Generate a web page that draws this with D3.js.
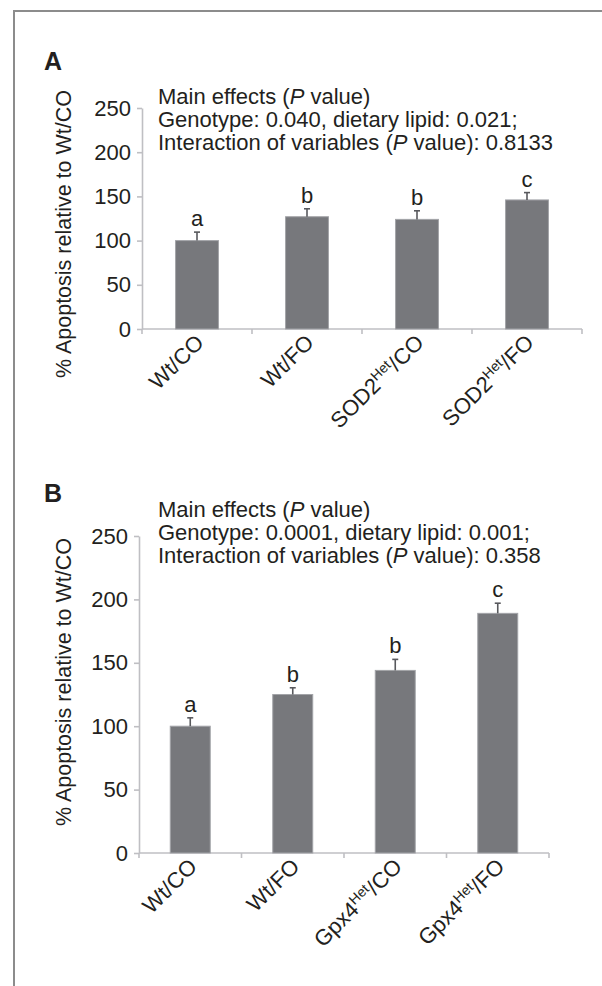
<!DOCTYPE html>
<html>
<head>
<meta charset="utf-8">
<script src="https://cdn.jsdelivr.net/npm/d3@7"></script>
<style>
  body { margin: 0; background: #fff; }
  svg { display: block; font-family: "Liberation Sans", Arial, Helvetica, sans-serif; }
</style>
</head>
<body>
<div id="chart"></div>
<script>
// data
const labelsA = ["Wt/CO", "Wt/FO", "SOD2{Het}/CO", "SOD2{Het}/FO"];
const valuesA = [100, 127, 124, 146];
const errorsA = [9.6, 9, 9.7, 8.3];
const lettersA = ["a", "b", "b", "c"];
const notesA = ["Genotype: 0.040, dietary lipid: 0.021;", "Interaction of variables ({P} value): 0.8133"];

const labelsB = ["Wt/CO", "Wt/FO", "Gpx4{Het}/CO", "Gpx4{Het}/FO"];
const valuesB = [100, 125, 144, 189];
const errorsB = [6.6, 5.3, 8.7, 8];
const lettersB = ["a", "b", "b", "c"];
const notesB = ["Genotype: 0.0001, dietary lipid: 0.001;", "Interaction of variables ({P} value): 0.358"];

const yTicks = [0, 50, 100, 150, 200, 250];
const yTitle = "% Apoptosis relative to Wt/CO";

const W = 602, H = 986;
const ink = "#231f20";
const axisColor = "#bfbfc3";
const fs = "22px";

const svg = d3.select("#chart").append("svg")
  .attr("width", W).attr("height", H);

// frame of the figure (only top and left edges are in view)
svg.append("path")
  .attr("d", `M14,${H} L14,11 L${W},11`)
  .attr("fill", "none").attr("stroke", "#8c8c8c").attr("stroke-width", 2);

// write text with {..} parts as italic (notes) or superscript (labels)
function richText(sel, str, mode) {
  str.split(/(\{[^}]*\})/).forEach(part => {
    if (!part) return;
    if (part[0] === "{") {
      const t = sel.append("tspan").text(part.slice(1, -1));
      if (mode === "italic") t.attr("font-style", "italic");
      else t.attr("baseline-shift", "super").attr("font-size", "14px");
    } else {
      sel.append("tspan").text(part);
    }
  });
}

function drawPanel(o) {
  const g = svg.append("g");

  const x = d3.scaleBand().domain(o.labels).range([o.x0, o.x1])
    .paddingInner(0.61).paddingOuter(0.305);
  const y = d3.scaleLinear().domain([0, 250]).range([o.y0, o.y1]);

  // panel letter
  g.append("text").attr("x", 44).attr("y", o.letterY)
    .attr("font-size", "25px").attr("font-weight", "bold").attr("fill", ink)
    .text(o.letter);

  // notes
  const notes = ["Main effects ({P} value)"].concat(o.notes);
  notes.forEach((n, i) => {
    const t = g.append("text").attr("x", 158).attr("y", o.noteY + i * 23)
      .attr("font-size", fs).attr("fill", ink);
    richText(t, n, "italic");
  });

  // y axis
  const ya = g.append("g").attr("transform", `translate(${o.x0},0)`)
    .call(d3.axisLeft(y).tickValues(yTicks).tickSize(5).tickSizeOuter(0).tickPadding(6));
  ya.select(".domain").attr("stroke", axisColor).attr("stroke-width", 1.6);
  ya.selectAll(".tick line").attr("stroke", axisColor).attr("stroke-width", 1.6);
  ya.selectAll(".tick text").attr("font-size", fs).attr("fill", ink)
    .attr("font-family", "Liberation Sans, Arial, sans-serif");

  g.append("text")
    .attr("transform", `translate(71,${o.titleY}) rotate(-90)`)
    .attr("text-anchor", "middle").attr("font-size", "21.5px").attr("fill", ink)
    .text(yTitle);

  // x axis line with ticks at category boundaries
  g.append("line").attr("x1", o.x0).attr("x2", o.x1)
    .attr("y1", y(0)).attr("y2", y(0))
    .attr("stroke", axisColor).attr("stroke-width", 1.6);
  d3.range(o.labels.length + 1).forEach(i => {
    const xx = o.x0 + i * x.step();
    g.append("line").attr("x1", xx).attr("x2", xx)
      .attr("y1", y(0)).attr("y2", y(0) + 5)
      .attr("stroke", axisColor).attr("stroke-width", 1.6);
  });

  // bars
  g.selectAll("rect.bar").data(o.values).join("rect").attr("class", "bar")
    .attr("x", (d, i) => x(o.labels[i]))
    .attr("width", x.bandwidth())
    .attr("y", d => y(d))
    .attr("height", d => y(0) - y(d))
    .attr("fill", "#77787c").attr("stroke", "#a3a4a8").attr("stroke-width", 1);

  // error bars (upper only)
  o.values.forEach((v, i) => {
    const cx = x(o.labels[i]) + x.bandwidth() / 2;
    g.append("line").attr("x1", cx).attr("x2", cx)
      .attr("y1", y(v)).attr("y2", y(v + o.errors[i]))
      .attr("stroke", "#58595d").attr("stroke-width", 1.6);
    g.append("line").attr("x1", cx - 3).attr("x2", cx + 3)
      .attr("y1", y(v + o.errors[i])).attr("y2", y(v + o.errors[i]))
      .attr("stroke", "#58595d").attr("stroke-width", 1.6);
    g.append("text").attr("x", cx).attr("y", y(v + o.errors[i]) - 6)
      .attr("text-anchor", "middle").attr("font-size", fs).attr("fill", ink)
      .text(o.letters[i]);
  });

  // rotated category labels
  o.labels.forEach(l => {
    const cx = x(l) + x.bandwidth() / 2 + 8;
    const t = g.append("text")
      .attr("transform", `translate(${cx},${y(0) + 15}) rotate(-45)`)
      .attr("text-anchor", "end").attr("font-size", fs).attr("fill", ink);
    richText(t, l, "sup");
  });
}

drawPanel({
  letter: "A", letterY: 70, noteY: 104, titleY: 234,
  labels: labelsA, values: valuesA, errors: errorsA, letters: lettersA, notes: notesA,
  x0: 142, x1: 582, y0: 329, y1: 108
});

drawPanel({
  letter: "B", letterY: 502, noteY: 517, titleY: 682,
  labels: labelsB, values: valuesB, errors: errorsB, letters: lettersB, notes: notesB,
  x0: 139, x1: 549, y0: 853, y1: 536
});
</script>
</body>
</html>
